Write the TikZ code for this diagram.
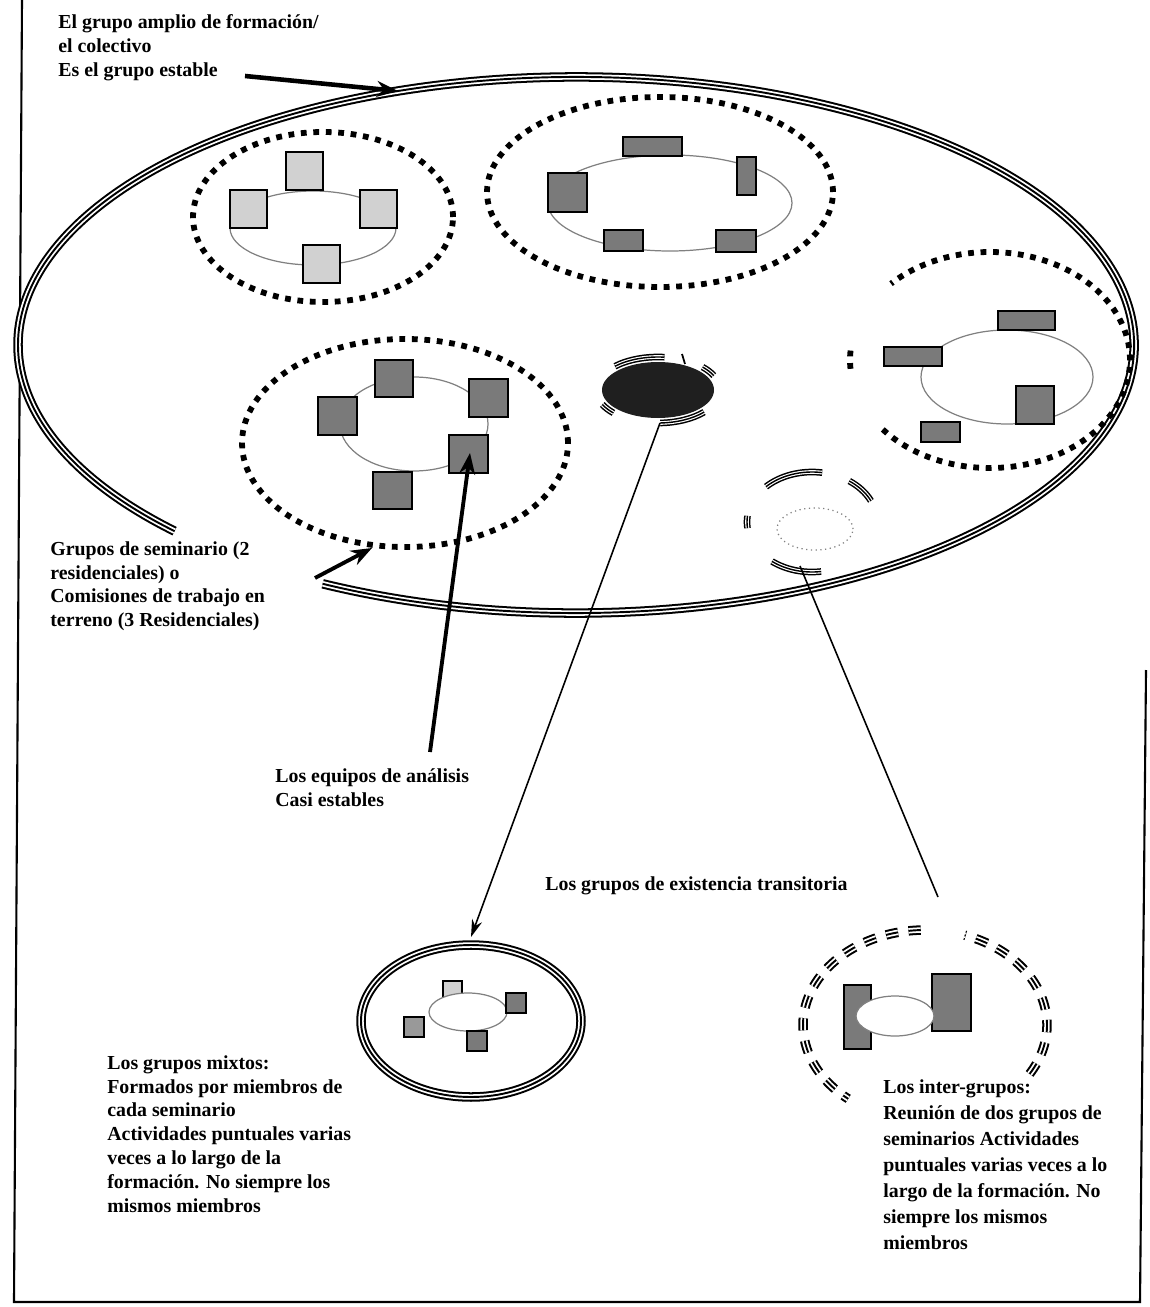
\documentclass[tikz,border=0pt]{standalone}
\usepackage{fontspec}
\setmainfont{Liberation Serif}
\usetikzlibrary{arrows.meta}

\definecolor{sqdark}{gray}{0.48}
\definecolor{sqmid}{gray}{0.6}
\definecolor{sqlight}{gray}{0.82}

\tikzset{
  lbl/.style={anchor=north west, inner sep=0pt, align=left,
    font=\bfseries\fontsize{11.3}{13.6}\selectfont},
  triple/.style={line width=5.4pt, postaction={draw=white, line width=3.1pt},
    postaction={draw=black, line width=1.1pt}},
  tripsmall/.style={line width=3.8pt, postaction={draw=white, line width=2.1pt},
    postaction={draw=black, line width=0.8pt}},
  dotring/.style={line width=3.3pt, dash pattern=on 3.3pt off 3.8pt},
  innerell/.style={draw=gray, line width=0.7pt},
  sqd/.style={draw=black, line width=0.9pt, fill=sqdark},
  sql/.style={draw=black, line width=0.9pt, fill=sqlight},
  arr/.style={line width=2.2pt, -{Stealth[length=12pt,width=9pt]}}
}

\begin{document}
\begin{tikzpicture}[x=0.02cm, y=0.02cm]
\useasboundingbox (0,0) rectangle (1149,-1307);

% Frame
\draw[line width=1.2pt] (22,0) -- (14,-1302) -- (1140,-1302) -- (1146,-670);

% Big group (double line, open at bottom left)
\draw[triple] (576,-345) ++(243:558 and 268)
  arc[start angle=243, end angle=584, x radius=558, y radius=268];

% Group 1 (top left)
\draw[dotring] (323,-217) ellipse [x radius=130, y radius=85];
\draw[innerell] (313,-228) ellipse [x radius=83, y radius=37];
\filldraw[sql] (286,-152) rectangle (323,-190);
\filldraw[sql] (230,-190) rectangle (267,-228);
\filldraw[sql] (360,-190) rectangle (397,-228);
\filldraw[sql] (303,-245) rectangle (340,-283);

% Group 2 (top middle)
\draw[dotring] (660,-192) ellipse [x radius=173, y radius=95];
\draw[innerell] (670,-203) ellipse [x radius=122, y radius=48];
\filldraw[sqd] (623,-137) rectangle (682,-156);
\filldraw[sqd] (548,-173) rectangle (587,-212);
\filldraw[sqd] (737,-157) rectangle (756,-195);
\filldraw[sqd] (604,-230) rectangle (643,-251);
\filldraw[sqd] (716,-230) rectangle (756,-252);

% Group 3 (right, broken ring)
\draw[dotring] (990,-360) ++(-140:140 and 108)
  arc[start angle=-140, end angle=135, x radius=140, y radius=108];
\draw[dotring] (990,-360) ++(175:140 and 108)
  arc[start angle=175, end angle=185, x radius=140, y radius=108];
\draw[innerell] (1007,-377) ellipse [x radius=86, y radius=47];
\filldraw[sqd] (998,-311) rectangle (1055,-330);
\filldraw[sqd] (884,-347) rectangle (942,-366);
\filldraw[sqd] (1016,-386) rectangle (1054,-424);
\filldraw[sqd] (921,-422) rectangle (960,-442);

% Seminar group
\draw[dotring] (405,-443) ellipse [x radius=163, y radius=104];
\draw[innerell] (414,-424) ellipse [x radius=74, y radius=47];
\filldraw[sqd] (375,-360) rectangle (413,-397);
\filldraw[sqd] (318,-397) rectangle (357,-435);
\filldraw[sqd] (469,-379) rectangle (508,-417);
\filldraw[sqd] (449,-435) rectangle (488,-473);
\filldraw[sqd] (373,-472) rectangle (412,-509);

% Analysis team (black)
\fill[black!88] (658,-390) ellipse [x radius=56, y radius=28];
\draw[tripsmall] (658,-390) ++(84:62 and 33) arc[start angle=84, end angle=134, x radius=62, y radius=33];
\draw[tripsmall] (658,-390) ++(26:62 and 33) arc[start angle=26, end angle=44, x radius=62, y radius=33];
\draw[tripsmall] (658,-390) ++(206:62 and 33) arc[start angle=206, end angle=224, x radius=62, y radius=33];
\draw[tripsmall] (658,-390) ++(272:62 and 33) arc[start angle=272, end angle=318, x radius=62, y radius=33];
\draw[line width=1pt] (682,-354) -- (685,-364);

% Small inter-group inside
\draw[innerell, dotted] (815,-529) ellipse [x radius=38, y radius=21];
\draw[tripsmall] (812,-522) ++(81:65 and 50) arc[start angle=81, end angle=135, x radius=65, y radius=50];
\draw[tripsmall] (812,-522) ++(25:65 and 50) arc[start angle=25, end angle=55, x radius=65, y radius=50];
\draw[tripsmall] (812,-522) ++(173:65 and 50) arc[start angle=173, end angle=187, x radius=65, y radius=50];
\draw[tripsmall] (812,-522) ++(232:65 and 50) arc[start angle=232, end angle=278, x radius=65, y radius=50];

% Mixed groups
\draw[triple] (471,-1021) ellipse [x radius=110, y radius=76];
\filldraw[sql] (443,-981) rectangle (462,-999);
\draw[innerell, fill=white] (468,-1012) ellipse [x radius=39, y radius=19];
\filldraw[sqd] (506,-993) rectangle (526,-1013);
\filldraw[sqd, fill=sqmid] (404,-1017) rectangle (424,-1037);
\filldraw[sqd] (467,-1031) rectangle (487,-1051);

% Inter-groups
\draw[triple, dash pattern=on 7pt off 6pt] (925,-1025) ++(-31:122 and 95)
  arc[start angle=-31, end angle=71, x radius=122, y radius=95];
\draw[triple, dash pattern=on 7pt off 6pt] (925,-1025) ++(92:122 and 95)
  arc[start angle=92, end angle=231, x radius=122, y radius=95];
\filldraw[sqd] (844,-985) rectangle (871,-1049);
\filldraw[sqd] (932,-974) rectangle (971,-1031);
\draw[innerell, fill=white] (895,-1016) ellipse [x radius=39, y radius=20];

% Labels
\node[lbl] (amplio) at (58,-14) {El grupo amplio de formación/\\el colectivo\\Es el grupo estable};
\node[lbl] (seminario) at (50,-541) {Grupos de seminario (2\\residenciales) o\\Comisiones de trabajo en\\terreno (3 Residenciales)};
\node[lbl] (equipos) at (275,-768) {Los equipos de análisis\\Casi estables};
\node[lbl] (transit) at (545,-876) {Los grupos de existencia transitoria};
\node[lbl] (mixtos) at (107,-1055) {Los grupos mixtos:\\Formados por miembros de\\cada seminario\\Actividades puntuales varias\\veces a lo largo de la\\formación. No siempre los\\mismos miembros};
\node[lbl, font=\bfseries\fontsize{11.3}{14.8}\selectfont] (inter) at (883,-1079) {Los inter-grupos:\\Reunión de dos grupos de\\seminarios Actividades\\puntuales varias veces a lo\\largo de la formación. No\\siempre los mismos\\miembros};

% Arrows
\coordinate (amplio-tail) at (245,-76);
\coordinate (amplio-tip) at (398,-91);
\coordinate (sem-tail) at (315,-578);
\coordinate (sem-tip) at (372,-548);
\coordinate (eq-tail) at (430,-752);
\coordinate (eq-tip) at (470,-453);
\coordinate (black-foot) at (660,-423);
\coordinate (mixed-top) at (471,-937);
\coordinate (small-foot) at (800,-566);
\coordinate (inter-top) at (938,-897);
\draw[arr, line width=2.6pt] (amplio-tail) -- (amplio-tip);
\draw[arr] (sem-tail) -- (sem-tip);
\draw[arr] (eq-tail) -- (eq-tip);
\draw[line width=0.9pt, -{Stealth[length=10pt,width=6pt]}] (black-foot) -- (mixed-top);
\draw[line width=0.9pt] (small-foot) -- (inter-top);

\end{tikzpicture}
\end{document}
